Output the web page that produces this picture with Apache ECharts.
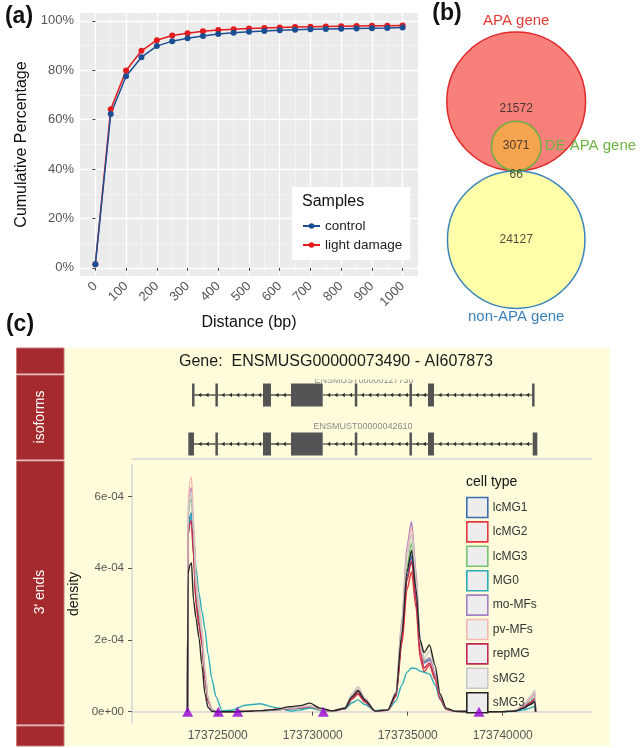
<!DOCTYPE html>
<html><head><meta charset="utf-8">
<script src="https://cdn.jsdelivr.net/npm/echarts@6/dist/echarts.min.js"></script>
<style>html,body{margin:0;padding:0;background:#fff}#c{width:643px;height:748px}</style>
</head><body><div id="c"></div>
<script>
// ---------------- Panel (a): cumulative percentage ----------------
const distanceBp = [0,50,100,150,200,250,300,350,400,450,500,550,600,650,700,750,800,850,900,950,1000];
const controlPct = [1.5,62.3,77.6,85.3,89.8,91.8,93.0,93.9,94.7,95.2,95.6,95.9,96.2,96.4,96.6,96.7,96.8,96.9,97.0,97.1,97.3];
const lightDamagePct = [1.5,64.2,79.9,87.9,92.2,94.1,95.0,95.8,96.3,96.6,96.9,97.1,97.3,97.5,97.6,97.7,97.8,97.9,98.0,98.0,98.1];
const distanceTicks = [0,100,200,300,400,500,600,700,800,900,1000];
const distanceMinorTicks = [50,150,250,350,450,550,650,750,850,950];
const percentTicks = [0,20,40,60,80,100];
const percentMinorTicks = [10,30,50,70,90];
const sampleNames = ['control','light damage'];

// ---------------- Panel (b): Venn ----------------
const vennSetNames = ['APA gene','DE APA gene','non-APA gene'];
// regions: APA only, APA∩DE, DE∩non-APA, non-APA only
const vennRegionCounts = [21572, 3071, 66, 24127];

// ---------------- Panel (c): gene model + 3' end density ----------------
const geneTitle = 'Gene:  ENSMUSG00000073490 - AI607873';
const isoformIds = ['ENSMUST00000042610','ENSMUST00000127730']; // bottom row, top row
const iso2Exons = [[173723453,173723753],[173724920,173724970],[173727384,173727805],[173728858,173730526],[173732255,173732305],[173735133,173735183],[173736068,173736384],[173741579,173741821]];
const iso1Exons = [[173723690,173723740],[173724920,173724970],[173727384,173727805],[173728858,173730526],[173732255,173732305],[173735133,173735183],[173736068,173736384],[173741586,173741636]];
const genomicTicks = [173725000,173730000,173735000,173740000];
const densityTicks = [0,2,4,6];
const densityTickLabels = ['0e+00','2e-04','4e-04','6e-04'];
const polyASites = [173723420,173725030,173726050,173730560,173738750];
const cellTypes = ['lcMG1','lcMG2','lcMG3','MG0','mo-MFs','pv-MFs','repMG','sMG2','sMG3'];
const cellColors = ['#3B6DB3','#E3393E','#75C26F','#2EABB8','#A47FC4','#F5B7B1','#C02A54','#C8C8C8','#262626'];
const densityPos = [173723410,173723440,173723540,173723620,173723730,173723860,173724020,173724170,173724330,173724490,173724700,173724910,173725230,
  173725750,173726440,173727230,173728020,173728810,173729330,173729860,173730380,173731020,
  173731700,173732070,173732380,173732750,173733280,
  173733960,173734380,173734700,173734960,173735200,173735440,173735650,173735860,173736150,173736440,173736700,173737020,173737490,
  173738540,173739860,173740650,173741120,173741440,173741700,173741730];
// density values in units of 1e-04
const dens_lcMG1 = [0,5.1,5.45,5.55,4.6,3.2,2.55,2.0,1.0,0.35,0.06,0.01,0, 0,0.01,0.02,0.05,0.08,0.1,0.13,0.06,0.01, 0.09,0.36,0.5,0.28,0.02, 0.05,0.47,2.1,3.75,4.35,3.2,1.8,1.36,1.44,1.0,0.4,0.08,0.01, 0,0,0.02,0.1,0.2,0.3,0];
const dens_lcMG2 = [0,5.0,5.3,5.35,4.4,3.05,2.45,1.95,0.95,0.32,0.05,0.01,0, 0,0.01,0.03,0.06,0.1,0.12,0.15,0.07,0.01, 0.08,0.35,0.49,0.27,0.02, 0.04,0.42,1.9,3.4,3.9,2.9,1.5,1.12,1.3,0.9,0.35,0.07,0.01, 0,0,0.02,0.12,0.24,0.35,0];
const dens_lcMG3 = [0,5.4,5.85,5.95,4.9,3.4,2.7,2.1,1.05,0.36,0.06,0.01,0, 0,0.01,0.02,0.05,0.09,0.11,0.14,0.06,0.01, 0.1,0.4,0.56,0.31,0.02, 0.05,0.5,2.3,4.05,4.7,3.5,1.9,1.42,1.5,1.05,0.42,0.08,0.01, 0,0,0.03,0.14,0.28,0.4,0];
const dens_MG0 = [0,4.9,5.35,5.5,4.9,4.0,3.3,2.8,2.3,1.6,0.9,0.42,0.03, 0.04,0.18,0.22,0.12,0.02,0.05,0.1,0.05,0.02, 0.08,0.25,0.33,0.2,0.03, 0.05,0.3,0.75,1.1,1.22,1.2,1.13,1.1,1.05,0.75,0.35,0.08,0.01, 0,0,0.01,0.05,0.1,0.15,0];
const dens_moMFs = [0,5.6,6.15,6.25,5.1,3.55,2.85,2.2,1.1,0.38,0.06,0.01,0, 0,0.01,0.03,0.06,0.1,0.12,0.16,0.07,0.01, 0.1,0.43,0.6,0.33,0.02, 0.05,0.55,2.6,4.6,5.3,3.9,2.0,1.38,1.5,1.05,0.42,0.08,0.01, 0,0,0.03,0.17,0.35,0.5,0];
const dens_pvMFs = [0,5.8,6.45,6.55,5.35,3.7,3.0,2.3,1.15,0.4,0.07,0.01,0, 0,0.01,0.03,0.06,0.11,0.13,0.17,0.08,0.01, 0.12,0.49,0.68,0.37,0.02, 0.05,0.54,2.5,4.45,5.15,3.75,1.85,1.22,1.4,0.98,0.4,0.08,0.01, 0,0,0.03,0.19,0.38,0.55,0];
const dens_repMG = [0,4.95,5.25,5.3,4.35,3.0,2.4,1.9,0.9,0.3,0.04,0,0, 0,0.01,0.03,0.05,0.09,0.11,0.14,0.06,0.01, 0.09,0.37,0.52,0.29,0.02, 0.04,0.45,2.05,3.65,4.2,3.1,1.65,1.22,1.35,0.95,0.37,0.07,0.01, 0,0,0.02,0.12,0.25,0.36,0];
const dens_sMG2 = [0,5.5,6.0,6.1,5.0,3.45,2.8,2.15,1.1,0.37,0.06,0.01,0, 0,0.01,0.02,0.05,0.1,0.12,0.16,0.07,0.01, 0.12,0.5,0.7,0.38,0.02, 0.05,0.52,2.4,4.3,4.95,3.65,1.95,1.48,1.7,1.2,0.47,0.09,0.01, 0,0,0.04,0.21,0.42,0.6,0];
const dens_sMG3 = [0,3.85,4.1,4.15,3.1,2.6,2.05,1.3,0.5,0.12,0.01,0,0, 0,0.01,0.03,0.06,0.14,0.17,0.24,0.1,0.02, 0.1,0.42,0.59,0.33,0.02, 0.05,0.5,2.2,3.9,4.5,3.4,2.0,1.65,1.86,1.3,0.5,0.1,0.01, 0,0,0.02,0.1,0.2,0.28,0];
const densityByType = [dens_lcMG1,dens_lcMG2,dens_lcMG3,dens_MG0,dens_moMFs,dens_pvMFs,dens_repMG,dens_sMG2,dens_sMG3];

// ---------------------------------------------------------------
const FONT = '"Liberation Sans", Arial, Helvetica, sans-serif';
const chart = echarts.init(document.getElementById('c'), null, {renderer:'canvas', width:643, height:748});

// Venn geometry derived from set sizes (area proportional)
const nAPA = vennRegionCounts[0] + vennRegionCounts[1];
const nDE = vennRegionCounts[1] + vennRegionCounts[2];
const nNon = vennRegionCounts[3] + vennRegionCounts[2];
const K = 0.442;
const rA = K*Math.sqrt(nAPA), rD = K*Math.sqrt(nDE), rN = K*Math.sqrt(nNon);
const cA = [0,0], cD = [0, rA - rD], cN = [0, rA + rN];

// intron data from exons
function intronsOf(exons, row){ const out=[]; for(let i=1;i<exons.length;i++) out.push([exons[i-1][1], exons[i][0], row]); return out; }
const exonData = iso2Exons.map(e=>[e[0],e[1],0]).concat(iso1Exons.map(e=>[e[0],e[1],1]));
const intronData = intronsOf(iso2Exons,0).concat(intronsOf(iso1Exons,1));

function renderExon(params, api){
  const row = api.value(2);
  const a = api.coord([api.value(0), row]);
  const b = api.coord([api.value(1), row]);
  let w = b[0]-a[0], x = a[0];
  if (w < 2.5){ x = a[0] - (2.5-w)/2; w = 2.5; }
  const h = 23;
  return {type:'rect', shape:{x:x, y:a[1]-h/2, width:w, height:h}, style:{fill:'#545454'}};
}
function renderIntron(params, api){
  const row = api.value(2);
  const a = api.coord([api.value(0), row]);
  const b = api.coord([api.value(1), row]);
  const ch = [{type:'line', shape:{x1:a[0], y1:a[1], x2:b[0], y2:b[1]}, style:{stroke:'#2b2b2b', lineWidth:1.2}}];
  for (let x = a[0]+4.5; x < b[0]-3.5; x += 7.3){
    ch.push({type:'polygon', shape:{points:[[x,a[1]],[x+3,a[1]-2.2],[x+3,a[1]+2.2]]}, style:{fill:'#2b2b2b'}});
  }
  return {type:'group', children:ch};
}

function txt(text, x, y, size, color, opts){
  opts = opts || {};
  return Object.assign({type:'text', x:x, y:y, z: opts.z==null?50:opts.z, rotation: opts.rotation||0,
    style:{text:text, fill:color, fontSize:size, fontFamily:FONT, fontWeight: opts.bold?'bold':'normal',
      align: opts.align||'center', verticalAlign:'middle', textAlign: opts.align||'center', textVerticalAlign:'middle'}});
}

const graphics = [
  {type:'rect', z:-10, shape:{x:64, y:347.7, width:546, height:398.3}, style:{fill:'#FEFCDB'}},
  {type:'rect', z:-9, shape:{x:16.5, y:348, width:47.5, height:25.5}, style:{fill:'#A52A2D', stroke:'#C9777A', lineWidth:1}},
  {type:'rect', z:-9, shape:{x:16.5, y:375, width:47.5, height:84.5}, style:{fill:'#A52A2D', stroke:'#C9777A', lineWidth:1}},
  {type:'rect', z:-9, shape:{x:16.5, y:461, width:47.5, height:263.5}, style:{fill:'#A52A2D', stroke:'#C9777A', lineWidth:1}},
  {type:'rect', z:-9, shape:{x:16.5, y:726, width:47.5, height:20}, style:{fill:'#A52A2D', stroke:'#C9777A', lineWidth:1}},
  txt('isoforms', 40.5, 417, 14, '#ffffff', {rotation:Math.PI/2}),
  txt("3' ends", 40.5, 592, 14, '#ffffff', {rotation:Math.PI/2}),
  txt('(a)', 19, 17, 23, '#111', {bold:true}),
  txt('(b)', 447, 14, 23, '#111', {bold:true}),
  txt('(c)', 20, 325, 23, '#111', {bold:true}),
  txt('Samples', 302, 201.7, 16, '#111', {align:'left', z:100}),
  txt('cell type', 466, 482.3, 14, '#111', {align:'left', z:100}),
  txt(geneTitle, 336, 361.7, 16, '#1a1a1a'),
  txt(isoformIds[1], 364, 380.5, 9, '#8a8a8a'),
  txt(isoformIds[0], 363, 426.5, 9, '#8a8a8a'),
  {type:'rect', z:60, shape:{x:300, y:371, width:130, height:8.5}, style:{fill:'#FEFCDB'}},
  {type:'line', z:-5, shape:{x1:132, y1:459, x2:592, y2:459}, style:{stroke:'#D6D6D6', lineWidth:1.5}}
];

const densitySeries = cellTypes.map((n,i)=>({
  type:'line', name:n, xAxisIndex:4, yAxisIndex:4,
  data: densityPos.map((p,j)=>[p, densityByType[i][j]]),
  symbol:'none', showSymbol:false, smooth:0.25, smoothMonotone:'x',
  lineStyle:{color:cellColors[i], width:1.4}, itemStyle:{color:cellColors[i]}, z:3
}));

const option = {
  animation:false,
  textStyle:{fontFamily:FONT},
  graphic: graphics,
  grid:[
    {left:80, top:13, width:338, height:263, show:true, backgroundColor:'#EBEBEB', borderWidth:0},
    {left:416.2, top:0, width:200, height:320, show:false},
    {left:132, top:370.5, width:460, height:98, show:false},
    {left:132, top:465, width:460, height:257.7, show:false}
  ],
  xAxis:[
    {gridIndex:0, type:'value', min:-50, max:1050, name:'Distance (bp)', nameLocation:'middle', nameGap:39,
      nameTextStyle:{fontSize:16, color:'#111'}, axisLine:{show:false},
      axisTick:{show:true, length:3, customValues:distanceTicks, lineStyle:{color:'#444'}},
      axisLabel:{customValues:distanceTicks, formatter:v=>String(v), rotate:45, margin:8, fontSize:13, color:'#555'},
      splitLine:{show:true, lineStyle:{color:'#ffffff', width:1.3}}},
    {gridIndex:0, type:'value', min:-50, max:1050, position:'top', axisLine:{show:false}, axisLabel:{show:false},
      axisTick:{show:false, customValues:distanceMinorTicks},
      splitLine:{show:true, lineStyle:{color:'#F6F6F6', width:0.7}}},
    {gridIndex:1, type:'value', min:-100, max:100, show:false},
    {gridIndex:2, type:'value', min:173720490, max:173744699, show:false},
    {gridIndex:3, type:'value', min:173720490, max:173744699,
      axisLine:{show:true, lineStyle:{color:'#D4D4D4', width:1.5}},
      axisTick:{show:true, length:4, customValues:genomicTicks, lineStyle:{color:'#555'}},
      axisLabel:{customValues:genomicTicks, formatter:v=>String(v), margin:7, fontSize:12, color:'#555'},
      splitLine:{show:false}}
  ],
  yAxis:[
    {gridIndex:0, type:'value', min:-3.3, max:103.2, name:'Cumulative Percentage', nameLocation:'middle', nameGap:43,
      nameTextStyle:{fontSize:16, color:'#111'}, axisLine:{show:false},
      axisTick:{show:true, length:3, customValues:percentTicks, lineStyle:{color:'#444'}},
      axisLabel:{customValues:percentTicks, formatter:'{value}%', margin:6, fontSize:13, color:'#555'},
      splitLine:{show:true, lineStyle:{color:'#ffffff', width:1.3}}},
    {gridIndex:0, type:'value', min:-3.3, max:103.2, position:'right', axisLine:{show:false}, axisLabel:{show:false},
      axisTick:{show:false, customValues:percentMinorTicks},
      splitLine:{show:true, lineStyle:{color:'#F6F6F6', width:0.7}}},
    {gridIndex:1, type:'value', min:-101.5, max:218.5, inverse:true, show:false},
    {gridIndex:2, type:'category', data:isoformIds, show:false},
    {gridIndex:3, type:'value', min:-0.307, max:6.88, name:'density', nameLocation:'middle', nameGap:39,
      nameTextStyle:{fontSize:14, color:'#111'},
      axisLine:{show:true, lineStyle:{color:'#D4D4D4', width:1.5}},
      axisTick:{show:true, length:4, customValues:densityTicks, lineStyle:{color:'#555'}},
      axisLabel:{customValues:densityTicks, formatter:v=>densityTickLabels[densityTicks.indexOf(v)], margin:8, fontSize:11.5, color:'#555'},
      splitLine:{show:false}}
  ],
  legend:[
    {data:sampleNames, orient:'vertical', left:292, top:187, padding:[31,8,7,10], backgroundColor:'#ffffff',
      itemWidth:17, itemHeight:7, itemGap:3, selectedMode:false,
      textStyle:{fontSize:13.5, color:'#222', lineHeight:16}},
    {data:cellTypes.map((n,i)=>({name:n, itemStyle:{color:'#EDEDED', borderColor:cellColors[i], borderWidth:1.6}})),
      icon:'rect', orient:'vertical', left:466, top:496.7, padding:0, itemWidth:21, itemHeight:20, itemGap:2.8,
      selectedMode:false, textStyle:{fontSize:12, color:'#333'}}
  ],
  series:[
    {type:'line', name:'light damage', xAxisIndex:0, yAxisIndex:0, data:distanceBp.map((d,i)=>[d, lightDamagePct[i]]),
      symbol:'circle', symbolSize:6, lineStyle:{color:'#E41A1C', width:1.5}, itemStyle:{color:'#E41A1C'}},
    {type:'line', name:'control', xAxisIndex:0, yAxisIndex:0, data:distanceBp.map((d,i)=>[d, controlPct[i]]),
      symbol:'circle', symbolSize:6, lineStyle:{color:'#1B4F93', width:1.5}, itemStyle:{color:'#1B4F93'}},
    // Venn
    {type:'scatter', name:vennSetNames[0], xAxisIndex:2, yAxisIndex:2, data:[cA], symbolSize:2*rA, z:2,
      itemStyle:{color:'#F8807A', borderColor:'#E0282A', borderWidth:1.5, opacity:1},
      label:{show:true, formatter:vennSetNames[0], position:'top', distance:3, color:'#E33B35', fontSize:15}},
    {type:'scatter', name:vennSetNames[2], xAxisIndex:2, yAxisIndex:2, data:[cN], symbolSize:2*rN, z:2,
      itemStyle:{color:'#FFFFAA', borderColor:'#3B84BE', borderWidth:1.5, opacity:1},
      label:{show:true, formatter:vennSetNames[2], position:'bottom', distance:0, color:'#3A80B9', fontSize:15}},
    {type:'scatter', name:vennSetNames[1], xAxisIndex:2, yAxisIndex:2, data:[cD], symbolSize:2*rD, z:3,
      itemStyle:{color:'#F6A450', borderColor:'#6CB043', borderWidth:1.5, opacity:1},
      label:{show:true, formatter:vennSetNames[1], position:'right', distance:3, color:'#6DB443', fontSize:15}},
    {type:'scatter', name:'vennCounts', xAxisIndex:2, yAxisIndex:2, symbolSize:1, z:4,
      itemStyle:{color:'rgba(0,0,0,0)'},
      label:{show:true, position:'inside', color:'#222', fontSize:12, formatter:p=>String(p.value[2])},
      data:[
        {value:[cA[0], cA[1], vennRegionCounts[0]], label:{offset:[0,7]}},
        {value:[cD[0], cD[1], vennRegionCounts[1]]},
        {value:[0, rA, vennRegionCounts[2]], label:{offset:[0,4]}},
        {value:[cN[0], cN[1], vennRegionCounts[3]]}
      ]},
    // gene model
    {type:'custom', name:'introns', xAxisIndex:3, yAxisIndex:3, renderItem:renderIntron, data:intronData, encode:{x:[0,1], y:2}, z:2},
    {type:'custom', name:'exons', xAxisIndex:3, yAxisIndex:3, renderItem:renderExon, data:exonData, encode:{x:[0,1], y:2}, z:3}
  ].concat(densitySeries).concat([
    {type:'scatter', name:'polyA', xAxisIndex:4, yAxisIndex:4, data:polyASites.map(p=>[p,0]), symbol:'triangle',
      symbolSize:[11,10], itemStyle:{color:'#9400D3'}, z:6}
  ])
};
chart.setOption(option);
</script></body></html>
